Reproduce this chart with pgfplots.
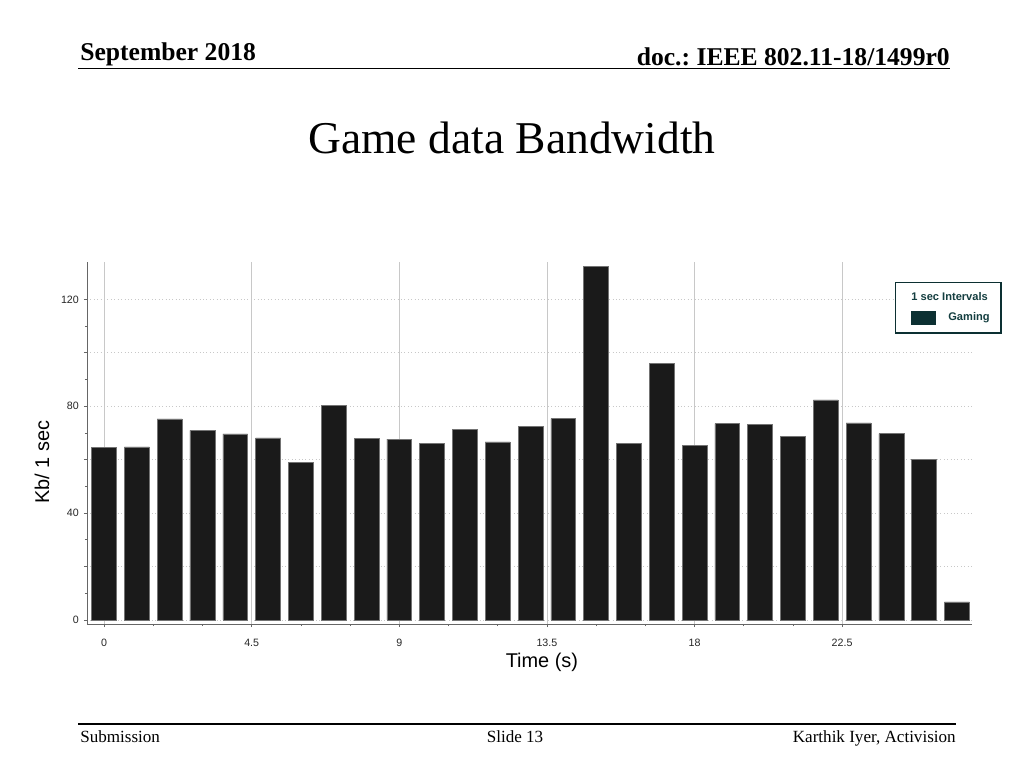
\documentclass[border=0pt]{standalone}
\usepackage{fontspec}
\setmainfont{Liberation Serif}
\newfontfamily\arial{Liberation Sans}
\usepackage{pgfplots}
\pgfplotsset{compat=1.18}
\frenchspacing

\definecolor{barfill}{RGB}{26,26,26}
\definecolor{gridgray}{RGB}{200,200,200}
\definecolor{legteal}{RGB}{12,48,50}
\definecolor{legtext}{RGB}{20,62,64}

\begin{document}
\begin{tikzpicture}
% slide frame, coordinates in pixels of a 1024x768 slide
\begin{scope}[x=0.703125pt,y=-0.703125pt,every node/.style={inner sep=0pt}]
	\fill[white] (0,0) rectangle (1024,768);
	\node[anchor=base west,font=\fontsize{18}{20}\selectfont\bfseries] at (80,61) {September 2018};
	\node[anchor=base east,font=\fontsize{18}{20}\selectfont\bfseries] at (950,66) {doc.: IEEE 802.11-18/1499r0};
	\draw[line width=0.8pt] (78,68.5) -- (950,68.5);
	\node[anchor=base,font=\fontsize{32}{36}\selectfont] at (512,154) {Game data Bandwidth};
	\draw[line width=1.4pt] (78,724) -- (956,724);
	\node[anchor=base west,font=\fontsize{12}{14}\selectfont] at (80,742) {Submission};
	\node[anchor=base,font=\fontsize{12}{14}\selectfont] at (515,742) {Slide 13};
	\node[anchor=base east,font=\fontsize{12}{14}\selectfont] at (956,742) {Karthik Iyer, Activision};
\end{scope}

\begin{axis}[
		at={(61.17pt,-438.75pt)}, anchor=south west,
		scale only axis,
		width=622.27pt, height=254.53pt,
		xmin=-0.52, xmax=26.46,
		ymin=-1.5, ymax=134,
		axis x line*=bottom, axis y line*=left,
		axis line style={black!60, line width=0.6pt},
		xtick={0,4.5,9,13.5,18,22.5},
		xticklabels={0,4.5,9,13.5,18,22.5},
		minor x tick num=2,
		ytick={0,20,...,120},
		yticklabels={0,,40,,80,,120},
		minor y tick num=1,
		tick align=outside,
		major tick length=2.2pt, minor tick length=1.5pt,
		tick style={black!60, line width=0.5pt},
		xmajorgrids, ymajorgrids,
		major x grid style={gridgray, line width=0.4pt},
		major y grid style={gridgray, dotted, line width=0.6pt},
		ticklabel style={font=\arial\fontsize{7.5}{8}\selectfont, text=black!85},
		xticklabel style={yshift=-5pt},
		xlabel={Time (s)},
		ylabel={Kb/ 1 sec},
		label style={font=\arial\fontsize{14}{16}\selectfont},
		xlabel style={at={(axis description cs:0.514,-0.106)}, anchor=center},
		ylabel style={at={(axis description cs:-0.0508,0.4475)}, anchor=center},
		legend style={at={(axis description cs:0.913,0.945)}, anchor=north west,
			draw=legteal, line width=1pt, fill=white,
			font=\arial\bfseries\fontsize{7.8}{9}\selectfont, text=legtext,
			inner xsep=6pt, inner ysep=5pt, row sep=3pt},
		legend cell align=left,
	]
	\addlegendimage{empty legend}
	\addlegendentry{\hspace{-26pt}1 sec Intervals}
	\addplot[ybar, bar width=0.76, fill=barfill, draw=black!55, line width=0.4pt,
		legend image code/.code={\fill[legteal,draw=none] (4.9pt,-4.9pt) rectangle (22.5pt,4.9pt); \path (28.8pt,0pt);}]
	coordinates {
			(0,64.6) (1,64.8) (2,75.3) (3,71.0) (4,69.7) (5,68.2) (6,59.1)
			(7,80.3) (8,67.9) (9,67.7) (10,66.1) (11,71.3) (12,66.7) (13,72.4)
			(14,75.4) (15,132.3) (16,66.1) (17,96.0) (18,65.5) (19,73.5) (20,73.1)
			(21,68.8) (22,82.4) (23,73.8) (24,69.8) (25,60.2) (26,6.8)
		};
	\addlegendentry{Gaming}
\end{axis}
\end{tikzpicture}
\end{document}
